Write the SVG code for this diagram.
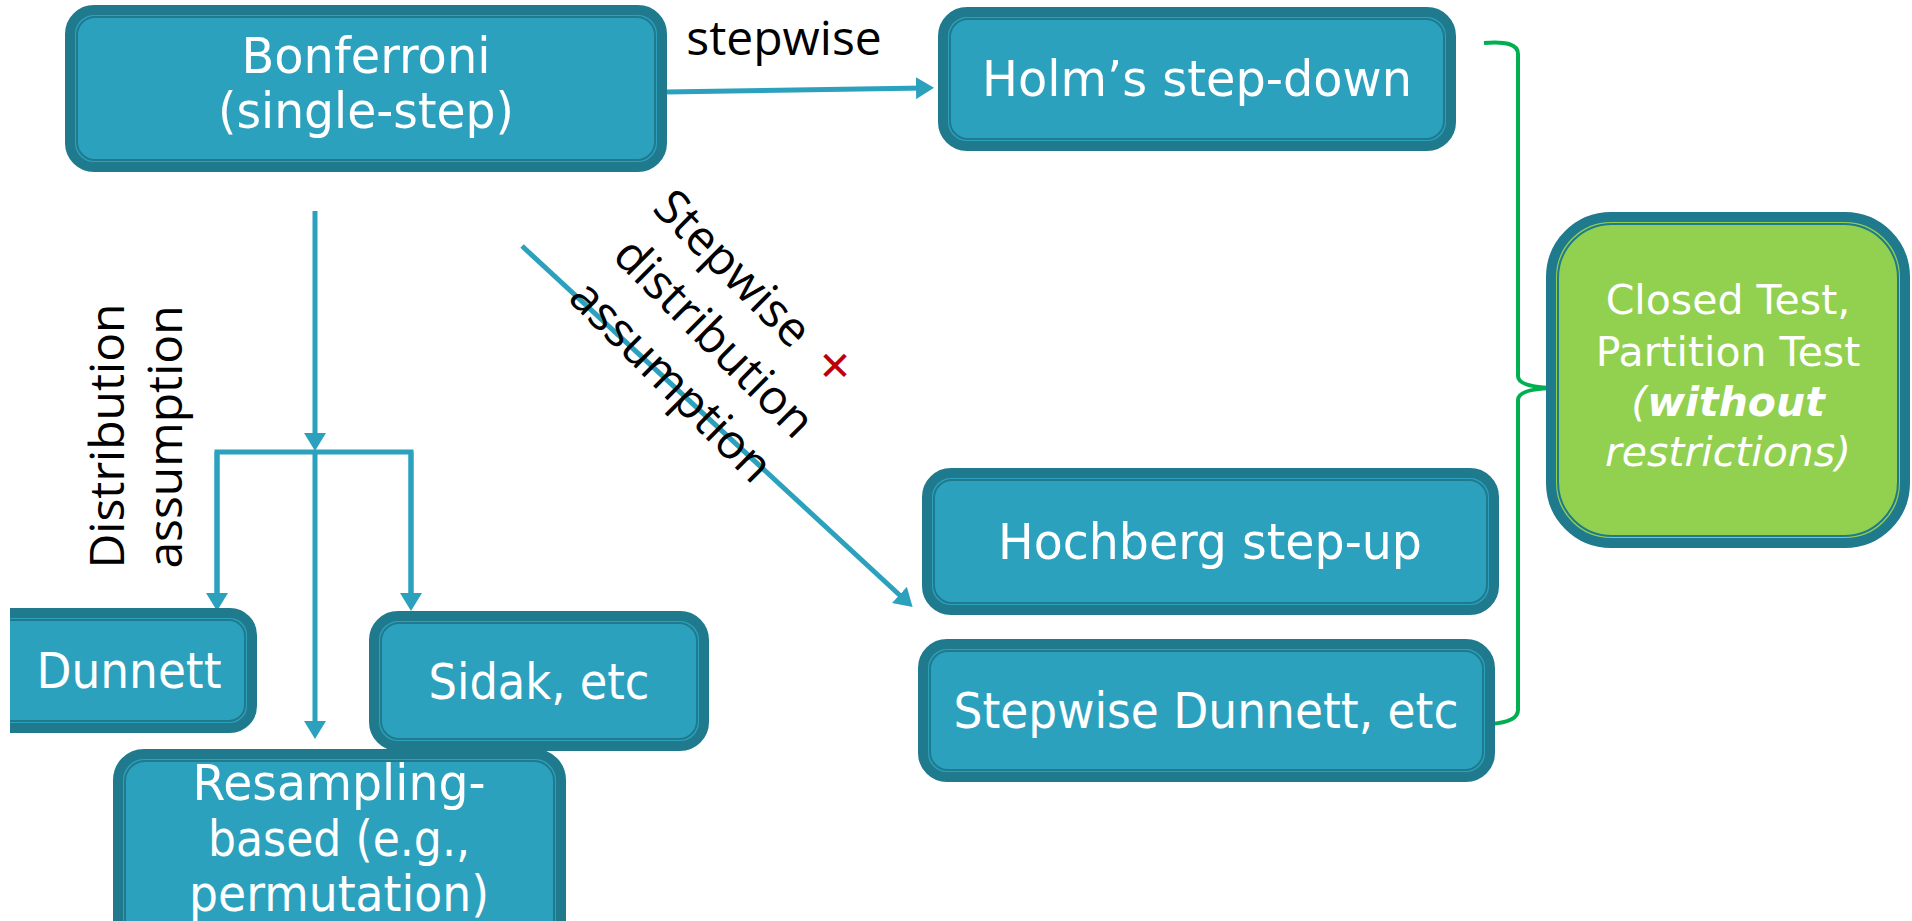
<svg xmlns="http://www.w3.org/2000/svg" width="1912" height="921" viewBox="0 0 1912 921">
<style>
.box{fill:#2CA1BE;stroke:#1F7A8D;stroke-width:10}
.gbox{fill:#92D050;stroke:#1F7A8D;stroke-width:10}
.inner{fill:none;stroke:#1F7A8D;stroke-width:2}
.bt{font-family:"DejaVu Sans",sans-serif;font-size:50px;fill:#fff;text-anchor:middle}
.ct{font-family:"DejaVu Sans",sans-serif;font-size:41px;fill:#fff;text-anchor:middle}
.lbl{font-family:"Open Sans",sans-serif;font-size:48px;fill:#000;text-anchor:middle}
.con{fill:none;stroke:#2CA1BE;stroke-width:5}
.brace{fill:none;stroke:#00B050;stroke-width:4}
</style>
<defs>
<marker id="ah" markerUnits="userSpaceOnUse" markerWidth="20" markerHeight="22" refX="9" refY="11" orient="auto">
<path d="M0,0 L18,11 L0,22 z" fill="#2CA1BE"/>
</marker>
<clipPath id="clipL"><rect x="10" y="0" width="1902" height="921"/></clipPath>
</defs>
<rect width="1912" height="921" fill="#fff"/>

<g id="connectors">
<path class="con" d="M665,92 L925,88" marker-end="url(#ah)"/>
<path class="con" d="M522,246 L906,601" marker-end="url(#ah)"/>
<path class="con" d="M315,211 L315,442" marker-end="url(#ah)"/>
<path class="con" d="M315,452 L315,730" marker-end="url(#ah)"/>
<path class="con" d="M217,602 L217,452 L411,452 L411,602"/>
<path class="con" d="M217,452 L217,602" marker-end="url(#ah)"/>
<path class="con" d="M411,452 L411,602" marker-end="url(#ah)"/>
<path class="brace" d="M1484,43 Q1518,40 1518,54 L1518,376 Q1518,387 1553,388 Q1518,389 1518,400 L1518,710 Q1518,722 1490,724"/>
</g>

<g id="labels">
<text class="lbl" x="784" y="55">stepwise</text>
<g transform="rotate(-90)">
<text class="lbl" x="-436" y="124">Distribution</text>
<text class="lbl" x="-437" y="182">assumption</text>
</g>
<g transform="rotate(45)">
<text class="lbl" x="708" y="-312">Stepwise</text>
<text class="lbl" x="744" y="-250">distribution</text>
<text class="lbl" x="744" y="-189">assumption</text>
</g>
<text x="835" y="380" font-family="DejaVu Sans,sans-serif" font-size="40" fill="#C00000" text-anchor="middle">✕</text>
</g>

<g id="bonferroni">
<rect class="box" x="70" y="10" width="592" height="157" rx="24"/>
<rect class="inner" x="77" y="17" width="578" height="143" rx="18"/>
<text class="bt" x="366" y="73" textLength="249" lengthAdjust="spacingAndGlyphs">Bonferroni</text>
<text class="bt" x="366" y="128" textLength="296" lengthAdjust="spacingAndGlyphs">(single-step)</text>
</g>

<g id="holm">
<rect class="box" x="943" y="12" width="508" height="134" rx="24"/>
<rect class="inner" x="950" y="19" width="494" height="120" rx="18"/>
<text class="bt" x="1197" y="96" textLength="430" lengthAdjust="spacingAndGlyphs">Holm’s step-down</text>
</g>

<g id="closed">
<rect class="gbox" x="1551" y="217" width="354" height="326" rx="60"/>
<rect class="inner" x="1558" y="224" width="340" height="312" rx="54"/>
<text class="ct" x="1728" y="314">Closed Test,</text>
<text class="ct" x="1728" y="366">Partition Test</text>
<text class="ct" x="1728" y="416" font-style="italic">(<tspan font-weight="bold">without</tspan></text>
<text class="ct" x="1728" y="466" font-style="italic">restrictions)</text>
</g>

<g id="hochberg">
<rect class="box" x="927" y="473" width="567" height="137" rx="24"/>
<rect class="inner" x="934" y="480" width="553" height="123" rx="18"/>
<text class="bt" x="1210" y="559" textLength="424" lengthAdjust="spacingAndGlyphs">Hochberg step-up</text>
</g>

<g id="stepwise-dunnett">
<rect class="box" x="923" y="644" width="567" height="133" rx="24"/>
<rect class="inner" x="930" y="651" width="553" height="119" rx="18"/>
<text class="bt" x="1206" y="728" textLength="505" lengthAdjust="spacingAndGlyphs">Stepwise Dunnett, etc</text>
</g>

<g id="dunnett" clip-path="url(#clipL)">
<rect class="box" x="-20" y="613" width="272" height="115" rx="22"/>
<rect class="inner" x="-13" y="620" width="258" height="101" rx="16"/>
<text class="bt" x="129" y="688" textLength="185" lengthAdjust="spacingAndGlyphs">Dunnett</text>
</g>

<g id="sidak">
<rect class="box" x="374" y="616" width="330" height="130" rx="24"/>
<rect class="inner" x="381" y="623" width="316" height="116" rx="18"/>
<text class="bt" x="539" y="699" textLength="221" lengthAdjust="spacingAndGlyphs">Sidak, etc</text>
</g>

<g id="resampling">
<rect class="box" x="118" y="754" width="443" height="200" rx="26"/>
<rect class="inner" x="125" y="761" width="429" height="186" rx="20"/>
<text class="bt" x="339" y="800" textLength="293" lengthAdjust="spacingAndGlyphs">Resampling-</text>
<text class="bt" x="339" y="856" textLength="262" lengthAdjust="spacingAndGlyphs">based (e.g.,</text>
<text class="bt" x="339" y="911" textLength="300" lengthAdjust="spacingAndGlyphs">permutation)</text>
</g>
</svg>
